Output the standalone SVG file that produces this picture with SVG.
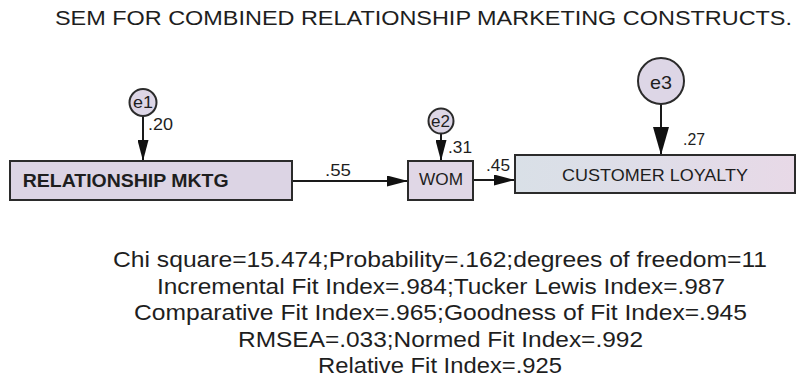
<svg xmlns="http://www.w3.org/2000/svg" width="796" height="382" viewBox="0 0 796 382">
<style>
text{font-family:"Liberation Sans",Arial,sans-serif;fill:#1e1e1e;}
.box{stroke:#2b2b2b;stroke-width:2;}
.circ{fill:#ddd6e6;stroke:#2b2b2b;stroke-width:2;}
.edge{stroke:#1a1a1a;stroke-width:2;fill:none;}
.num{font-size:17px;}
.fit{font-size:22px;}
</style>
<defs>
<linearGradient id="clg" x1="0" y1="0" x2="1" y2="0">
<stop offset="0" stop-color="#d9e0e7"/>
<stop offset="0.5" stop-color="#dfdde8"/>
<stop offset="1" stop-color="#e8d9e7"/>
</linearGradient>
<marker id="ah" markerUnits="userSpaceOnUse" markerWidth="21" markerHeight="11" refX="21" refY="5.5" orient="auto" viewBox="0 0 21 11">
<path d="M0,0 L21,5.5 L0,11 z" fill="#111"/>
</marker>
<marker id="ahL" markerUnits="userSpaceOnUse" markerWidth="28" markerHeight="16" refX="28" refY="8" orient="auto" viewBox="0 0 28 16">
<path d="M0,0 L28,8 L0,16 z" fill="#111"/>
</marker>
</defs>
<rect width="796" height="382" fill="#ffffff"/>
<text x="55" y="25" font-size="19.5" textLength="737" lengthAdjust="spacingAndGlyphs">SEM FOR COMBINED RELATIONSHIP MARKETING CONSTRUCTS.</text>

<g id="connectors">
<line class="edge" x1="143" y1="116" x2="143" y2="161" marker-end="url(#ah)"/>
<line class="edge" x1="441" y1="133" x2="441" y2="161" marker-end="url(#ah)"/>
<line class="edge" x1="661" y1="104" x2="661" y2="155" marker-end="url(#ahL)"/>
<line class="edge" x1="292" y1="181" x2="408" y2="181" marker-end="url(#ah)"/>
<line class="edge" x1="473" y1="180" x2="515" y2="180" marker-end="url(#ah)"/>
<text class="num" x="148" y="130" textLength="25" lengthAdjust="spacingAndGlyphs">.20</text>
<text class="num" x="325" y="176" textLength="26" lengthAdjust="spacingAndGlyphs">.55</text>
<text class="num" x="448" y="153" textLength="24" lengthAdjust="spacingAndGlyphs">.31</text>
<text class="num" x="486" y="171" textLength="24" lengthAdjust="spacingAndGlyphs">.45</text>
<text class="num" x="683" y="145" textLength="22" lengthAdjust="spacingAndGlyphs">.27</text>
</g>

<g id="e1">
<circle class="circ" cx="143" cy="102.5" r="13.5"/>
<text x="133" y="108" font-size="17" textLength="20" lengthAdjust="spacingAndGlyphs">e1</text>
</g>
<g id="e2">
<circle class="circ" cx="441" cy="121" r="12.5"/>
<text x="431" y="127" font-size="17" textLength="19" lengthAdjust="spacingAndGlyphs">e2</text>
</g>
<g id="e3">
<circle class="circ" cx="661" cy="81" r="23"/>
<text x="650" y="89" font-size="19" textLength="22" lengthAdjust="spacingAndGlyphs">e3</text>
</g>

<g id="relationship_mktg">
<rect class="box" x="10" y="161" width="282" height="39" fill="#dcd4e4"/>
<text x="22.7" y="187" font-size="19" font-weight="bold" textLength="206" lengthAdjust="spacingAndGlyphs">RELATIONSHIP MKTG</text>
</g>
<g id="wom">
<rect class="box" x="408" y="161" width="65" height="39" fill="#e0d7e6"/>
<text x="419" y="184.5" font-size="16.5" textLength="44" lengthAdjust="spacingAndGlyphs">WOM</text>
</g>
<g id="customer_loyalty">
<rect class="box" x="515" y="155" width="280" height="38" fill="url(#clg)"/>
<text x="562" y="181" font-size="16.5" textLength="186" lengthAdjust="spacingAndGlyphs">CUSTOMER LOYALTY</text>
</g>

<g id="fit_indices" text-anchor="middle">
<text class="fit" x="440" y="267" textLength="654" lengthAdjust="spacingAndGlyphs">Chi square=15.474;Probability=.162;degrees of freedom=11</text>
<text class="fit" x="441" y="293.5" textLength="568" lengthAdjust="spacingAndGlyphs">Incremental Fit Index=.984;Tucker Lewis Index=.987</text>
<text class="fit" x="440.5" y="320" textLength="613" lengthAdjust="spacingAndGlyphs">Comparative Fit Index=.965;Goodness of Fit Index=.945</text>
<text class="fit" x="440.5" y="346.5" textLength="405" lengthAdjust="spacingAndGlyphs">RMSEA=.033;Normed Fit Index=.992</text>
<text class="fit" x="440" y="373" textLength="244" lengthAdjust="spacingAndGlyphs">Relative Fit Index=.925</text>
</g>
</svg>
